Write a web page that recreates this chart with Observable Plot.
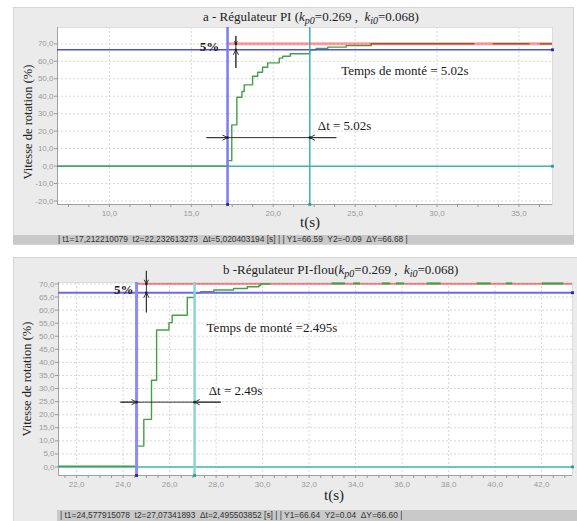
<!DOCTYPE html>
<html><head><meta charset="utf-8">
<script src="https://cdn.jsdelivr.net/npm/d3@7"></script>
<script src="https://cdn.jsdelivr.net/npm/@observablehq/plot@0.6"></script>
<style>
body{margin:0;background:#fff;}
#root{position:relative;width:577px;height:521px;overflow:hidden;font-family:"Liberation Serif",serif;}
.panel{position:absolute;background:#ebebeb;border:1px solid #d4d4d4;box-sizing:border-box;}
.status{position:absolute;background:#c9c9c9;font-family:"Liberation Sans",sans-serif;font-size:8.4px;color:#333;white-space:pre;box-sizing:border-box;}
.title{position:absolute;font-size:13px;line-height:16px;color:#222;white-space:pre;}
.title sub{font-size:10px;vertical-align:-3px;line-height:0;}
.ylab{position:absolute;width:200px;text-align:center;font-size:12.5px;line-height:16px;transform:rotate(-90deg);color:#222;white-space:pre;}
.xlab{position:absolute;font-size:15px;line-height:16px;color:#222;}
.chart{position:absolute;left:0;}
</style></head>
<body><div id="root">
<div class="panel" style="left:13px;top:7px;width:561px;height:238px;"></div>
<div class="status" id="statusA" style="left:13px;top:235px;width:561px;height:9px;line-height:9px;padding-left:45px;"></div>
<div class="panel" style="left:13px;top:257px;width:570px;height:270px;"></div>
<div class="status" id="statusB" style="left:57px;top:510px;width:530px;height:11px;line-height:11px;padding-left:3px;"></div>
<div id="chartA" class="chart" style="top:0px;"></div>
<div id="chartB" class="chart" style="top:250px;"></div>
<div class="title" style="left:203px;top:9px;">a - Régulateur PI (<i>k</i><sub><i>p0</i></sub>=0.269 ,  <i>k</i><sub><i>i0</i></sub>=0.068)</div>
<div class="title" style="left:223px;top:262px;">b -Régulateur PI-flou(<i>k</i><sub><i>p0</i></sub>=0.269 ,  <i>k</i><sub><i>i0</i></sub>=0.068)</div>
<div class="ylab" style="left:-72px;top:114px;">Vitesse de rotation (%)</div>
<div class="ylab" style="left:-73px;top:371px;">Vitesse de rotation (%)</div>
<div class="xlab" style="left:300px;top:214px;">t(s)</div>
<div class="xlab" style="left:324px;top:487px;">t(s)</div>
</div>
<script>
const fmt = d => d.toFixed(1).replace(".", ",");

// ---------- Panel a : PI ----------
const tA = [6.83, 17.21, 17.47, 17.78, 18.09, 18.23, 18.74, 19.05, 19.35, 19.66, 20.37, 20.58, 21.04, 22.23, 22.62, 23.33, 24.45, 25.98];
const vA = [0, 3.1, 23.6, 39.4, 42.7, 46.5, 51.4, 53.7, 56.6, 59.1, 61.8, 62.9, 64.3, 66.6, 67.3, 68.1, 69.0, 70.0];
const tailStartA = [25.98, 33.42, 36.29];
const tailEndA = [32.30, 35.68, 37.05];
const tailLevelA = 70.0;
const cursorTA = [17.212210079, 22.232613273];
const cursorYA = [66.59, -0.09];
const refA = 70;
const xTicksA = [10, 15, 20, 25, 30, 35];
const xMinorA = [7.5, 8.75, 11.25, 12.5, 13.75, 16.25, 17.5, 18.75, 21.25, 22.5, 23.75, 26.25, 27.5, 28.75, 31.25, 32.5, 33.75, 36.25];
const yTicksA = [-20, -10, 0, 10, 20, 30, 40, 50, 60, 70];
const statusA = "| t1=17,212210079  t2=22,232613273  Δt=5,020403194 [s] | | Y1=66.59  Y2=-0.09  ΔY=66.68 |";
const labelsA = ["Temps de monté = 5.02s", "Δt = 5.02s", "5%"];

// ---------- Panel b : PI-flou ----------
const tB = [21.22, 24.578, 24.89, 25.22, 25.44, 25.97, 26.11, 26.76, 27.07, 27.33, 27.90, 28.75, 29.34, 29.84, 29.92, 30.3];
const vB = [0.3, 8.0, 18.2, 33.2, 52.4, 55.2, 58.0, 64.8, 66.5, 67.0, 67.7, 68.25, 68.9, 69.4, 70.0, 70.0];
const tailStartB = [32.99, 33.92, 35.15, 35.76, 37.08, 39.23, 40.48, 42.03];
const tailEndB = [33.57, 34.21, 35.50, 36.10, 37.68, 39.83, 40.76, 42.96];
const tailLevelB = 70.2;
const cursorTB = [24.577915078, 27.07341893];
const cursorYB = [66.64, 0.04];
const refB = 70;
const xTicksB = [22, 24, 26, 28, 30, 32, 34, 36, 38, 40, 42];
const xMinorB = [21.5, 22.5, 23, 23.5, 24.5, 25, 25.5, 26.5, 27, 27.5, 28.5, 29, 29.5, 30.5, 31, 31.5, 32.5, 33, 33.5, 34.5, 35, 35.5, 36.5, 37, 37.5, 38.5, 39, 39.5, 40.5, 41, 41.5, 42.5, 43];
const yTicksB = [0, 5, 10, 15, 20, 25, 30, 35, 40, 45, 50, 55, 60, 65, 70];
const statusB = "| t1=24,577915078  t2=27,07341893  Δt=2,495503852 [s] | | Y1=66.64  Y2=0.04  ΔY=66.60 |";
const labelsB = ["Temps de monté =2.495s", "Δt = 2.49s", "5%"];

document.getElementById("statusA").textContent = statusA;
document.getElementById("statusB").textContent = statusB;

function panel(cfg) {
  const main = cfg.t.map((t, i) => ({t, v: cfg.v[i]}));
  const tail = cfg.tailStart.map((s, i) => ({x1: s, x2: cfg.tailEnd[i], y: cfg.tailLevel}));
  const [xa, xb] = cfg.xDom, [ya, yb] = cfg.yDom;
  const [t1, t2] = cfg.cursorT, [Y1, Y2] = cfg.cursorY;
  const va = cfg.vArrow, ha = cfg.hArrow;
  const arrows = [
    {x1: va.t, y1: va.top, x2: va.t, y2: cfg.ref},
    {x1: va.t, y1: va.bottom, x2: va.t, y2: Y1},
    {x1: ha.left, y1: ha.v, x2: t1, y2: ha.v},
    {x1: ha.right, y1: ha.v, x2: t2, y2: ha.v}
  ];
  const shafts = [
    {x1: va.t, y1: va.top, x2: va.t, y2: va.bottom},
    {x1: ha.left, y1: ha.v, x2: ha.right, y2: ha.v}
  ];
  const apex = arrows.map(d => ({x: d.x2, y: d.y2}));
  const texts = cfg.labels.map((s, i) => ({s, x: cfg.labelPos[i][0], y: cfg.labelPos[i][1], a: cfg.labelPos[i][2]}));
  const greenLine = Plot.line(main, {x: "t", y: "v", curve: "step-after", stroke: "#44a044", strokeWidth: 1.4});
  const greenTail = Plot.ruleY(tail, {x1: "x1", x2: "x2", y: "y", stroke: "#44a044", strokeWidth: cfg.tailWidth});
  const red = Plot.ruleY([cfg.ref], {x1: t1, x2: xb, stroke: cfg.redColor, strokeOpacity: cfg.redOpacity, strokeWidth: cfg.redWidth});
  const layers = cfg.redOnTop ? [greenLine, greenTail, red] : [red, greenLine, greenTail];
  const textOpts = {x: "x", y: "y", text: "s", fontFamily: "Liberation Serif, serif", fontSize: 13, fill: "#1a1a1a", lineAnchor: "middle"};
  return Plot.plot({
    width: 577, height: cfg.height,
    marginTop: cfg.mt, marginBottom: cfg.mb, marginLeft: cfg.ml, marginRight: cfg.mr,
    style: {background: "transparent", fontFamily: "Liberation Sans, sans-serif", fontSize: "8px", color: "#9a9a9a", overflow: "visible"},
    x: {domain: cfg.xDom, label: null},
    y: {domain: cfg.yDom, label: null},
    marks: [
      Plot.frame({fill: "white", stroke: "#dcdcdc"}),
      Plot.gridX(cfg.xTicks, {stroke: "#d8d8d8", strokeOpacity: 1, strokeDasharray: "2,2"}),
      Plot.gridY(cfg.yTicks, {stroke: "#d8d8d8", strokeOpacity: 1, strokeDasharray: "2,2"}),
      Plot.axisX(cfg.xTicks, {tickFormat: fmt, tickSize: 3, tickPadding: 3, stroke: "#9a9a9a", fill: "#9a9a9a"}),
      Plot.axisX(cfg.xMinor, {tickFormat: () => "", tickSize: 3, stroke: "#9a9a9a"}),
      Plot.axisY(cfg.yTicks, {tickFormat: fmt, tickSize: 3, tickPadding: 1, stroke: "#9a9a9a", fill: "#9a9a9a"}),
      Plot.ruleY([ya], {stroke: "#a0a0a0"}),
      Plot.ruleX([xa], {stroke: "#a0a0a0"}),
      Plot.ruleY([Y2], {stroke: "#3fb8b0", strokeWidth: 1.5}),
      ...layers,
      Plot.ruleY([Y1], {stroke: cfg.blueH, strokeWidth: cfg.blueHW}),
      Plot.ruleX([t1], {stroke: cfg.blueV, strokeWidth: cfg.blueVW}),
      Plot.ruleX([t2], {stroke: cfg.tealV, strokeWidth: cfg.tealVW}),
      Plot.link(shafts, {x1: "x1", y1: "y1", x2: "x2", y2: "y2", stroke: "#333", strokeWidth: 1}),
      Plot.arrow(arrows, {x1: "x1", y1: "y1", x2: "x2", y2: "y2", stroke: "#333", strokeWidth: 1, headLength: 8, headAngle: 55}),
      Plot.dot(apex, {x: "x", y: "y", r: 1.3, fill: "#222", stroke: null}),
      Plot.dot([{x: t1, y: ya}, {x: xb, y: Y1}], {x: "x", y: "y", symbol: "square", r: 1.6, fill: "#2020c0", stroke: null}),
      Plot.dot([{x: t2, y: ya}, {x: xb, y: Y2}], {x: "x", y: "y", symbol: "square", r: 1.6, fill: "#20a0a0", stroke: null}),
      Plot.text(texts.filter(d => d.a === "start"), {...textOpts, textAnchor: "start"}),
      Plot.text(texts.filter(d => d.a === "end"), {...textOpts, textAnchor: "end", fontWeight: 600})
    ]
  });
}

document.getElementById("chartA").append(panel({
  t: tA, v: vA, tailStart: tailStartA, tailEnd: tailEndA, tailLevel: tailLevelA, tailWidth: 1.5,
  cursorT: cursorTA, cursorY: cursorYA, ref: refA,
  xDom: [6.83, 37.05], yDom: [-22.0, 79.35], xTicks: xTicksA, xMinor: xMinorA, yTicks: yTicksA,
  height: 235, mt: 27, mb: 31, ml: 57, mr: 25,
  redColor: "#ff0000", redOpacity: 0.38, redWidth: 3, redOnTop: true,
  blueH: "#5050e0", blueHW: 1.5, blueV: "#7c7cf0", blueVW: 2.5, tealV: "#3cb4b4", tealVW: 1.5,
  vArrow: {t: 17.72, top: 74.4, bottom: 56.4},
  hArrow: {v: 16.3, left: 15.94, right: 23.84},
  labels: labelsA,
  labelPos: [[24.15, 54.7, "start"], [22.72, 23.2, "start"], [16.7, 68.5, "end"]]
}));

document.getElementById("chartB").append(panel({
  t: tB, v: vB, tailStart: tailStartB, tailEnd: tailEndB, tailLevel: tailLevelB, tailWidth: 2,
  cursorT: cursorTB, cursorY: cursorYB, ref: refB,
  xDom: [21.22, 43.33], yDom: [-3.25, 70.55], xTicks: xTicksB, xMinor: xMinorB, yTicks: yTicksB,
  height: 260, mt: 32, mb: 35, ml: 58, mr: 5,
  redColor: "#e82020", redOpacity: 1, redWidth: 1, redOnTop: false,
  blueH: "#6a6ae8", blueHW: 2, blueV: "#8c8cf4", blueVW: 3, tealV: "#8cd4d4", tealVW: 2.5,
  vArrow: {t: 25.0, top: 74.9, bottom: 59.2},
  hArrow: {v: 24.8, left: 23.89, right: 28.19},
  labels: labelsB,
  labelPos: [[27.59, 53.1, "start"], [27.68, 29.3, "start"], [24.45, 67.9, "end"]]
}));
</script>
</body></html>
